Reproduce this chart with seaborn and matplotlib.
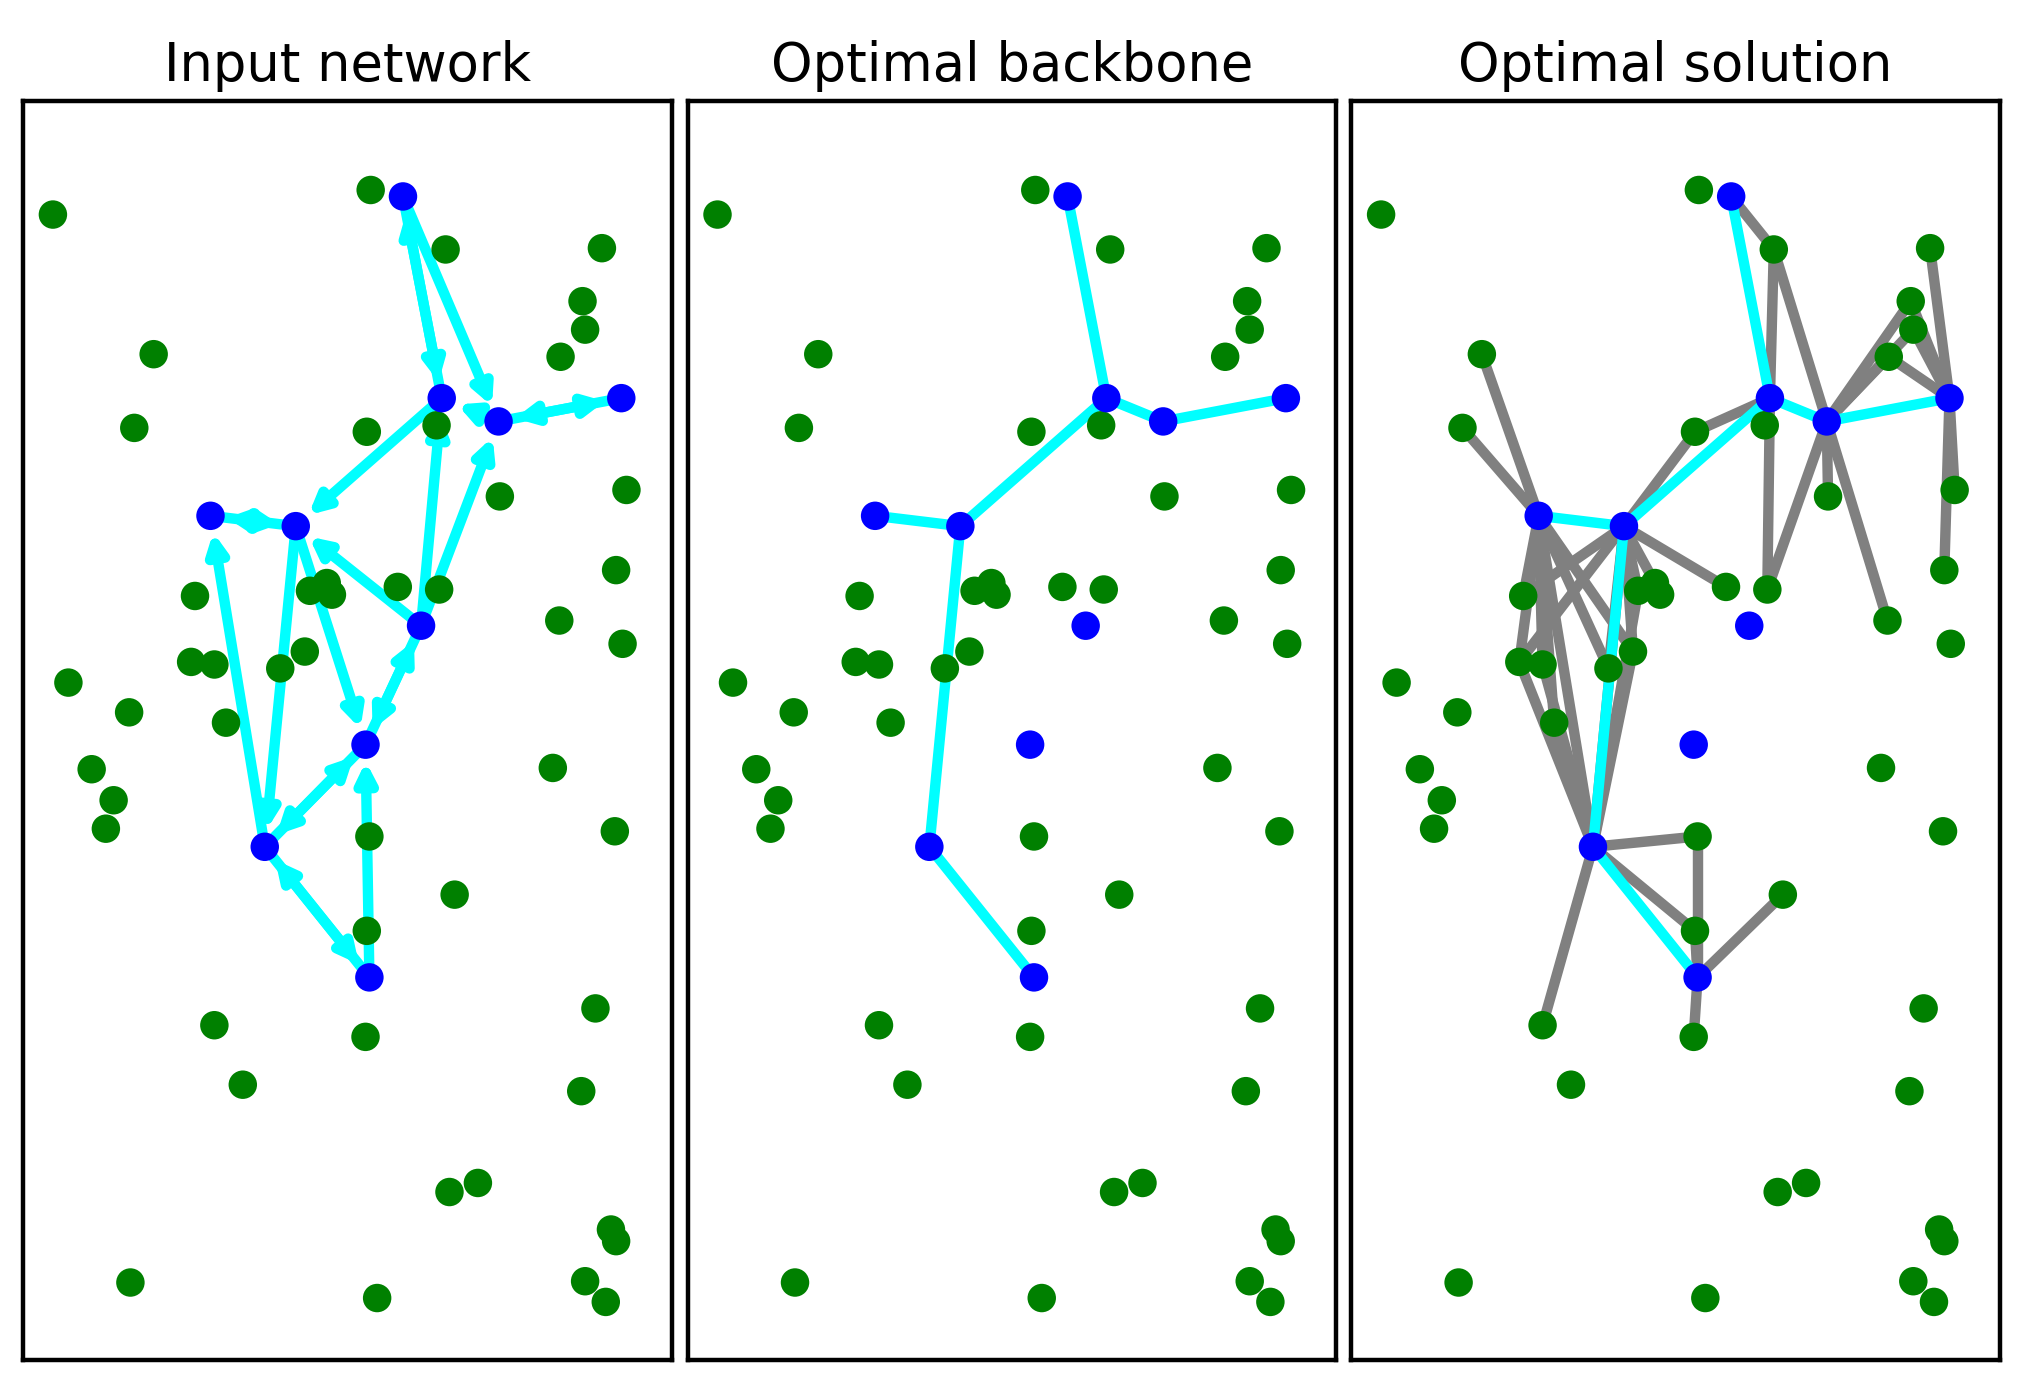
import seaborn as sns
from matplotlib import pyplot as plt
import pandas as pd

# node positions (panel pixel coords, y downward)
green_x = [41, 287, 345, 466, 451, 453, 434, 119, 104, 284, 338, 387, 485, 477, 151, 240, 253, 257,
           308, 340, 433, 482, 236, 217, 148, 166, 53, 100, 175, 71, 88, 82, 428, 476, 286, 352,
           284, 461, 166, 283, 188, 450, 348, 370, 473, 477, 101, 292, 453, 469]
green_y = [166, 147, 193, 192, 233, 255, 276, 274, 331, 334, 329, 384, 379, 441, 461, 457, 451, 460,
           454, 456, 480, 498, 504, 517, 512, 514, 528, 551, 559, 595, 619, 641, 594, 643, 647, 692,
           720, 780, 793, 802, 839, 844, 922, 915, 951, 960, 992, 1004, 991, 1007]
blue_names = ['A', 'B', 'C', 'D', 'E', 'F', 'G', 'H', 'I', 'J']
blue_x = [312, 342, 386, 481, 163, 229, 326, 283, 205, 286]
blue_y = [152, 308, 326, 308, 399, 407, 484, 576, 655, 756]

input_arcs = [('A', 'B'), ('B', 'A'), ('A', 'C'), ('D', 'C'), ('C', 'D'), ('B', 'F'), ('F', 'E'),
              ('E', 'F'), ('I', 'E'), ('F', 'I'), ('G', 'F'), ('G', 'B'), ('G', 'C'), ('H', 'G'),
              ('G', 'H'), ('F', 'H'), ('H', 'I'), ('I', 'H'), ('I', 'J'), ('J', 'I'), ('J', 'H'),
              ('C', 'B')]
backbone = [('A', 'B'), ('B', 'C'), ('C', 'D'), ('B', 'F'), ('F', 'E'), ('F', 'I'), ('I', 'J')]
# gray edges: blue node -> green node index
access = {
    'A': [2],
    'B': [2, 10, 19, 9],
    'C': [2, 11, 19, 6, 4, 5, 20],
    'D': [3, 4, 5, 12, 13, 6],
    'E': [7, 8, 14, 24, 25, 28, 23, 22],
    'F': [9, 18, 14, 24, 15, 16, 22, 23],
    'I': [34, 36, 38, 24, 25, 28, 15, 22],
    'J': [36, 35, 39, 34],
}
extra_gray = [('E', 'I'), ('F', 'I')]

pos = {n: (x, y) for n, x, y in zip(blue_names, blue_x, blue_y)}
green = pd.DataFrame({'x': green_x, 'y': green_y})
blue = pd.DataFrame({'x': blue_x, 'y': blue_y})

fig = plt.figure(figsize=(20.17, 13.73), dpi=100)
titles = ['Input network', 'Optimal backbone', 'Optimal solution']
lefts = [0.0115, 0.341, 0.670]
CYAN, LW = '#00ffff', 7.5

for k in range(3):
    ax = fig.add_axes([lefts[k], 0.0094, 0.3215, 0.9172])
    if k == 0:
        for a, b in input_arcs:
            ax.annotate('', xy=pos[b], xytext=pos[a],
                        arrowprops=dict(arrowstyle='-|>,head_length=1.1,head_width=0.55',
                                        color=CYAN, lw=LW, shrinkA=0, shrinkB=12), zorder=1)
    if k == 2:
        for n, idx in access.items():
            for i in idx:
                ax.plot([pos[n][0], green_x[i]], [pos[n][1], green_y[i]], color='gray', lw=LW, zorder=1)
        for a, b in extra_gray:
            ax.plot([pos[a][0], pos[b][0]], [pos[a][1], pos[b][1]], color='gray', lw=LW, zorder=1)
    if k >= 1:
        for a, b in backbone:
            ax.plot([pos[a][0], pos[b][0]], [pos[a][1], pos[b][1]], color=CYAN, lw=LW, zorder=1.5)
    sns.scatterplot(data=green, x='x', y='y', color='green', s=420, edgecolor='none', ax=ax, zorder=2)
    sns.scatterplot(data=blue, x='x', y='y', color='blue', s=420, edgecolor='none', ax=ax, zorder=3)
    ax.set_xlim(18, 520)
    ax.set_ylim(974 + 78, 78)
    ax.set_xticks([])
    ax.set_yticks([])
    ax.set_xlabel('')
    ax.set_ylabel('')
    for s in ax.spines.values():
        s.set_linewidth(3.2)
    ax.set_title(titles[k], fontsize=38, pad=14)

fig.savefig('out.png')
